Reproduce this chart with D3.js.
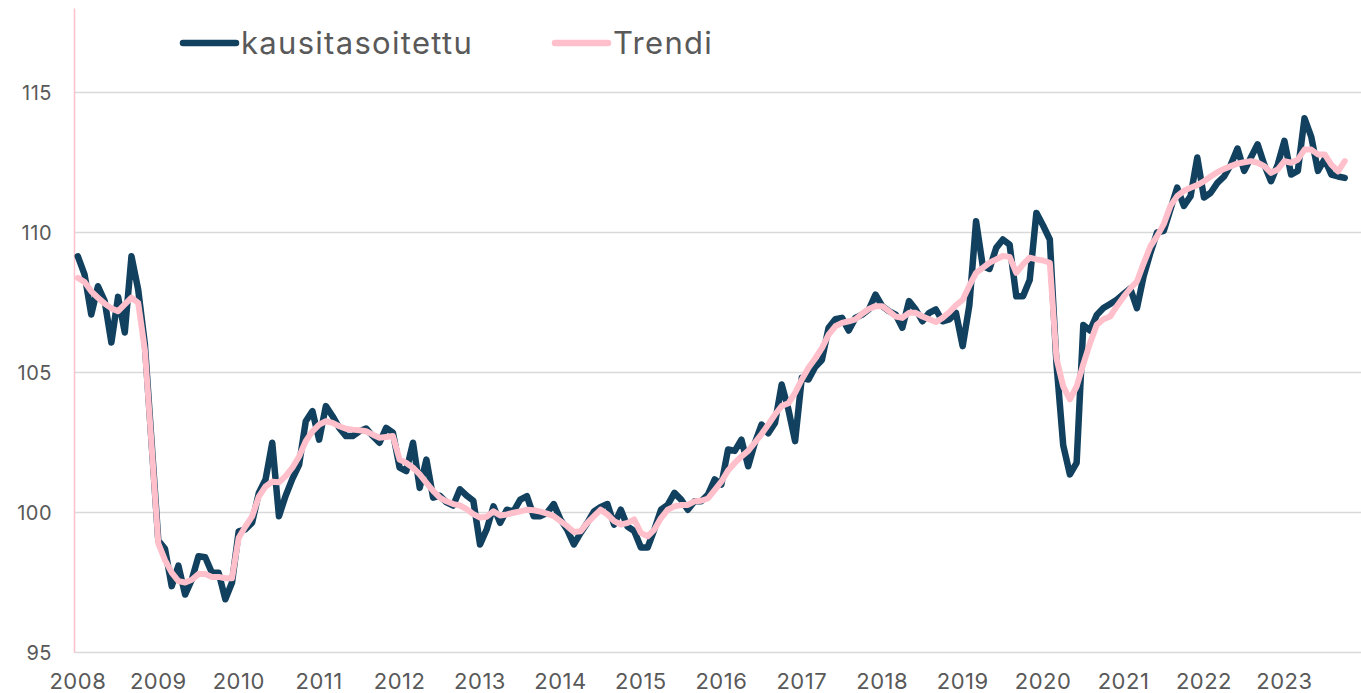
<!DOCTYPE html>
<html>
<head>
<meta charset="utf-8">
<script src="https://cdn.jsdelivr.net/npm/d3@7"></script>
<style>
  html, body { margin: 0; padding: 0; background: #fff; }
  svg { display: block; }
  text { font-family: Inter, "Open Sans", sans-serif; fill: #595959; }
</style>
</head>
<body>
<svg id="chart" width="1361" height="693"></svg>
<script>
var yearLabels = ["2008", "2009", "2010", "2011", "2012", "2013", "2014", "2015",
    "2016", "2017", "2018", "2019", "2020", "2021", "2022", "2023"];
var yTicks = [95, 100, 105, 110, 115];
var seriesNames = ["kausitasoitettu", "Trendi"];

// monthly values, Jan 2008 -> Oct 2023
var kausitasoitettu = [
    109.15, 108.5, 107.07, 108.08, 107.55, 106.07, 107.7, 106.43, 109.15, 107.96, 106.0, 102.5,
    99.0, 98.7, 97.37, 98.1, 97.07, 97.6, 98.44, 98.4, 97.85, 97.85, 96.9, 97.5,
    99.33, 99.4, 99.64, 100.7, 101.18, 102.49, 99.87, 100.6, 101.2, 101.7, 103.26, 103.62,
    102.6, 103.8, 103.44, 103.02, 102.73, 102.73, 102.9, 103.0, 102.73, 102.49, 103.02, 102.85,
    101.6, 101.48, 102.49, 100.88, 101.89, 100.53, 100.6, 100.36, 100.25, 100.83, 100.6, 100.42,
    98.86, 99.4, 100.22, 99.63, 100.1, 100.04, 100.46, 100.58, 99.87, 99.87, 99.99, 100.3,
    99.75, 99.39, 98.86, 99.27, 99.63, 100.04, 100.2, 100.3, 99.57, 100.1, 99.5, 99.34,
    98.75, 98.75, 99.39, 100.1, 100.27, 100.7, 100.46, 100.1, 100.4, 100.4, 100.64, 101.18,
    101.0, 102.25, 102.2, 102.6, 101.65, 102.49, 103.14, 102.83, 103.2, 104.57, 103.68, 102.55,
    104.81, 104.75, 105.2, 105.45, 106.6, 106.9, 106.95, 106.5, 106.95, 107.07, 107.25, 107.78,
    107.37, 107.19, 107.07, 106.6, 107.55, 107.25, 106.83, 107.13, 107.25, 106.83, 106.9, 107.13,
    105.94, 107.4, 110.4, 108.8, 108.7, 109.45, 109.75, 109.57, 107.72, 107.72, 108.3, 110.7,
    110.25, 109.75, 105.3, 102.4, 101.36, 101.77, 106.7, 106.5, 107.05, 107.3, 107.45, 107.6,
    107.8, 108.0, 107.3, 108.44, 109.27, 110.0, 110.06, 110.83, 111.6, 110.95, 111.3, 112.68,
    111.25, 111.42, 111.77, 112.0, 112.42, 113.0, 112.2, 112.68, 113.15, 112.42, 111.83, 112.42,
    113.27, 112.07, 112.2, 114.08, 113.42, 112.2, 112.62, 112.07, 112.0, 111.95
];

var trendi = [
    108.38, 108.23, 107.9, 107.67, 107.46, 107.29, 107.19, 107.43, 107.67, 107.49, 105.8, 102.4,
    98.9, 98.3, 97.85, 97.55, 97.5, 97.6, 97.8, 97.8, 97.7, 97.7, 97.65, 97.65,
    99.1, 99.5, 99.86, 100.57, 100.93, 101.1, 101.08, 101.3, 101.6, 102.0, 102.55, 102.9,
    103.14, 103.26, 103.2, 103.08, 102.99, 102.96, 102.94, 102.9, 102.78, 102.67, 102.7, 102.73,
    101.89, 101.77, 101.6, 101.36, 101.06, 100.77, 100.53, 100.4, 100.3, 100.25, 100.12, 99.94,
    99.82, 99.85, 100.04, 99.89, 99.93, 99.99, 100.04, 100.1, 100.08, 100.03, 99.96, 99.87,
    99.69, 99.51, 99.3, 99.33, 99.63, 99.87, 100.1, 99.93, 99.69, 99.57, 99.63, 99.75,
    99.27, 99.15, 99.39, 99.8, 100.1, 100.22, 100.27, 100.27, 100.4, 100.42, 100.5, 100.8,
    101.1, 101.5, 101.77, 102.0, 102.2, 102.5, 102.8, 103.14, 103.5, 103.8, 103.9, 104.27,
    104.75, 105.17, 105.5, 105.87, 106.35, 106.65, 106.77, 106.83, 106.9, 107.1, 107.27, 107.37,
    107.37, 107.19, 107.0, 106.95, 107.13, 107.13, 107.0, 106.9, 106.8, 106.95, 107.15, 107.4,
    107.6, 108.1, 108.56, 108.74, 108.92, 109.04, 109.16, 109.13, 108.56, 108.86, 109.1, 109.04,
    109.0, 108.92, 105.5, 104.5, 104.04, 104.5, 105.3, 106.05, 106.7, 106.9, 107.0, 107.37,
    107.7, 108.0, 108.25, 108.9, 109.5, 109.87, 110.3, 110.95, 111.3, 111.49, 111.6, 111.69,
    111.83, 112.0, 112.15, 112.27, 112.37, 112.46, 112.51, 112.55, 112.49, 112.37, 112.13, 112.25,
    112.55, 112.49, 112.6, 112.96, 112.96, 112.79, 112.79, 112.42, 112.18, 112.55
];

var darkBlue = "#12405f";
var pink = "#ffc0cb";
var gridGrey = "#d9d9d9";

var svg = d3.select("#chart");

// plot box (don't call these top/left, window.top is read-only)
var plotLeft = 74.5, plotRight = 1361.5, plotTop = 8.5, plotBottom = 652.5;

// one slot per month, whole years 2008-2023 on the axis
var x = d3.scaleLinear()
    .domain([-0.5, yearLabels.length * 12 - 0.5])
    .range([plotLeft, plotRight]);

var y = d3.scaleLinear()
    .domain([95, 118])
    .range([plotBottom, plotTop]);

// Gridlines
svg.append("g")
    .attr("class", "grid")
    .selectAll("line")
    .data(yTicks)
    .join("line")
    .attr("x1", plotLeft)
    .attr("x2", plotRight)
    .attr("y1", function(d) { return y(d); })
    .attr("y2", function(d) { return y(d); })
    .style("stroke", gridGrey)
    .style("stroke-width", 1.5);

// Y labels
svg.append("g")
    .selectAll("text")
    .data(yTicks)
    .join("text")
    .attr("x", 52)
    .attr("y", function(d) { return y(d) + 7.5; })
    .attr("text-anchor", "end")
    .style("font-size", "20px")
    .style("letter-spacing", "0.5px")
    .text(function(d) { return d; });

// X labels at January of each year
svg.append("g")
    .selectAll("text")
    .data(yearLabels)
    .join("text")
    .attr("x", function(d, i) { return x(i * 12); })
    .attr("y", 689)
    .attr("text-anchor", "middle")
    .style("font-size", "22px")
    .style("letter-spacing", "0.5px")
    .text(function(d) { return d; });

// Pink vertical axis
svg.append("line")
    .attr("x1", plotLeft)
    .attr("x2", plotLeft)
    .attr("y1", plotTop)
    .attr("y2", plotBottom)
    .style("stroke", pink)
    .style("stroke-width", 1.5);

var line = d3.line()
    .x(function(d, i) { return x(i); })
    .y(function(d) { return y(d); });

svg.append("path")
    .datum(kausitasoitettu)
    .attr("d", line)
    .style("fill", "none")
    .style("stroke", darkBlue)
    .style("stroke-width", 6.5)
    .style("stroke-linejoin", "round")
    .style("stroke-linecap", "round");

svg.append("path")
    .datum(trendi)
    .attr("d", line)
    .style("fill", "none")
    .style("stroke", pink)
    .style("stroke-width", 6)
    .style("stroke-linejoin", "round")
    .style("stroke-linecap", "round");

// Legend
var legendItems = [
    { name: seriesNames[0], color: darkBlue, x: 183 },
    { name: seriesNames[1], color: pink, x: 555 }
];

var legend = svg.append("g")
    .selectAll("g")
    .data(legendItems)
    .join("g")
    .attr("transform", function(d) { return "translate(" + d.x + ",43)"; });

legend.append("line")
    .attr("x1", 0)
    .attr("x2", 53)
    .style("stroke", function(d) { return d.color; })
    .style("stroke-width", 6.5)
    .style("stroke-linecap", "round");

legend.append("text")
    .attr("x", 58)
    .attr("y", 10.5)
    .style("font-size", "31px")
    .style("letter-spacing", "1.3px")
    .text(function(d) { return d.name; });
</script>
</body>
</html>
